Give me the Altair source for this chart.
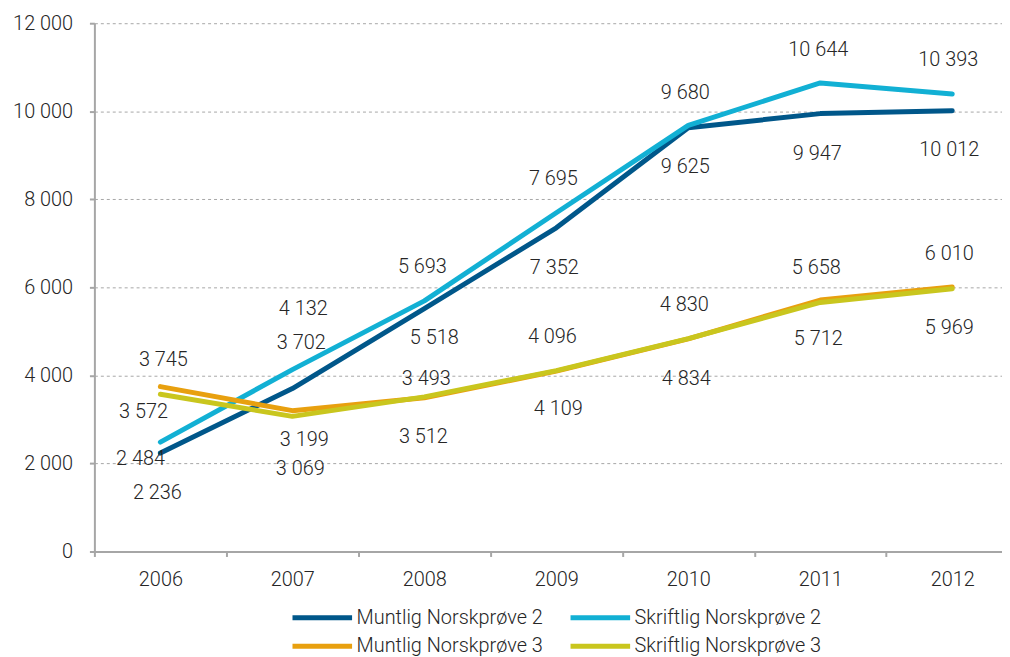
import altair as alt
import pandas as pd

years = [2006, 2007, 2008, 2009, 2010, 2011, 2012]
series_names = [
    "Muntlig Norskprøve 2",
    "Skriftlig Norskprøve 2",
    "Muntlig Norskprøve 3",
    "Skriftlig Norskprøve 3",
]
muntlig_2 = [2236, 3702, 5518, 7352, 9625, 9947, 10012]
skriftlig_2 = [2484, 4132, 5693, 7695, 9680, 10644, 10393]
muntlig_3 = [3745, 3199, 3493, 4096, 4830, 5712, 6010]
skriftlig_3 = [3572, 3069, 3512, 4109, 4834, 5658, 5969]
y_ticks = [0, 2000, 4000, 6000, 8000, 10000, 12000]

colors = ["#00578A", "#12B0D4", "#E8A00F", "#C9C61E"]

# manual data-label placement (pixel offsets from each point), as in the original
label_dx = [
    [-3, 9, 10, -2, -3, -3, -3],
    [-20, 11, -2, -3, -3, -2, -4],
    [3, 12, 2, -4, -4, -2, -3],
    [-17, 8, -1, 2, -2, -4, -3],
]
label_dy = [
    [40, -46, 30, 40, 40, 41, 40],
    [17, -61, -34, -34, -33, -33, -34],
    [-27, 30, -19, -34, -34, 39, -33],
    [18, 53, 40, 39, 41, -35, 40],
]

all_values = [muntlig_2, skriftlig_2, muntlig_3, skriftlig_3]
rows = []
for si, name in enumerate(series_names):
    for yi, yr in enumerate(years):
        v = all_values[si][yi]
        rows.append({
            "year": yr,
            "value": v,
            "series": name,
            "label": f"{v:,}".replace(",", " "),
            "dx": label_dx[si][yi],
            "dy": label_dy[si][yi],
        })
df = pd.DataFrame(rows)

FONT = "Roboto"
AXIS_GRAY = "#A6A6A6"
TEXT = "#262626"

x_vals = [2005.5, 2006, 2006.5, 2007, 2007.5, 2008, 2008.5, 2009, 2009.5,
          2010, 2010.5, 2011, 2011.5, 2012]

x_enc = alt.X(
    "year:Q",
    scale=alt.Scale(domain=[2005.5, 2012.377], nice=False, zero=False),
    axis=alt.Axis(
        values=x_vals,
        labelExpr="datum.value % 1 === 0 ? '' + datum.value : ''",
        tickOpacity={"condition": {"test": "datum.value % 1 !== 0", "value": 1}, "value": 0},
        labelOverlap=False,
        labelFlush=False,
        grid=False,
        title=None,
        domainColor=AXIS_GRAY,
        domainWidth=2,
        tickColor=AXIS_GRAY,
        tickWidth=2,
        tickSize=5,
        labelPadding=13,
        labelFont=FONT,
        labelFontSize=20,
        labelFontWeight=300,
        labelColor=TEXT,
    ),
)

y_enc = alt.Y(
    "value:Q",
    scale=alt.Scale(domain=[0, 12000], nice=False),
    axis=alt.Axis(
        values=y_ticks,
        labelExpr="replace(format(datum.value, ','), ',', ' ')",
        grid=True,
        gridColor=AXIS_GRAY,
        gridDash=[3, 3],
        gridWidth=1,
        title=None,
        domainColor=AXIS_GRAY,
        domainWidth=2,
        tickColor=AXIS_GRAY,
        tickWidth=2,
        tickSize=5,
        labelPadding=17,
        labelFont=FONT,
        labelFontSize=20,
        labelFontWeight=300,
        labelColor=TEXT,
    ),
)

color_enc = alt.Color(
    "series:N",
    scale=alt.Scale(domain=series_names, range=colors),
    legend=alt.Legend(
        title=None,
        orient="none",
        legendX=217,
        legendY=586,
        columns=2,
        direction="horizontal",
        symbolType="M-3,0H3",
        symbolSize=400,
        symbolStrokeWidth=5,
        labelOffset=22,
        labelFont=FONT,
        labelFontSize=20,
        labelFontWeight=300,
        labelColor=TEXT,
        labelLimit=0,
        columnPadding=17,
        rowPadding=6,
        padding=0,
    ),
)

layers = []
for name in series_names:
    layers.append(
        alt.Chart(df)
        .transform_filter(alt.datum.series == name)
        .mark_line(strokeWidth=5, strokeCap="round", strokeJoin="round")
        .encode(x=x_enc, y=y_enc, color=color_enc)
    )

labels = (
    alt.Chart(df)
    .mark_text(font=FONT, fontSize=20, fontWeight=300, color=TEXT,
               align="center", baseline="middle",
               dx=alt.ExprRef("datum.dx"), dy=alt.ExprRef("datum.dy"))
    .encode(
        x=x_enc,
        y=y_enc,
        text="label:N",
    )
)

chart = (
    alt.layer(*layers, labels)
    .properties(
        width=914,
        height=532,
        autosize=alt.AutoSizeParams(type="none"),
        padding={"left": 87, "top": 13, "right": 0, "bottom": 115},
    )
    .configure_view(stroke=None)
)

chart.save("out.html", embed_options={"renderer": "svg", "actions": False})
